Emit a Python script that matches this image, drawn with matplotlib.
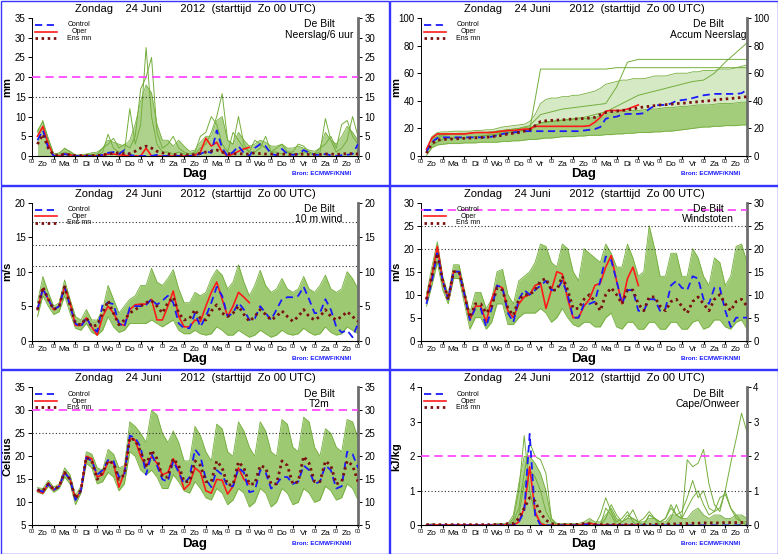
"""ECMWF ensemble plumes for De Bilt, start Sunday 24 June 2012 00 UTC."""

import numpy as np
import matplotlib
matplotlib.use('Agg')
from matplotlib import pyplot
from matplotlib.patches import Rectangle

pyplot.rcParams['font.family'] = ['Liberation Sans', 'DejaVu Sans']

# Forecast steps (hours after start), 6-hourly and 12-hourly.
hours = np.arange(6, 361, 6)
hours12 = np.arange(12, 361, 12)
oper_hours = hours[hours <= 240]
day_names = ['Zo', 'Ma', 'Di', 'Wo', 'Do', 'Vr', 'Za',
             'Zo', 'Ma', 'Di', 'Wo', 'Do', 'Vr', 'Za', 'Zo']
title = 'Zondag    24 Juni      2012  (starttijd  Zo 00 UTC)'

# --- Neerslag per 6 uur (mm) ---
prec_ctrl = [4.0, 6.5, 2.0, 0.0, 0.0, 0.5, 0.2, 0.0, 0.0, 0.0, 0.0, 0.0,
             0.3, 0.8, 1.0, 0.5, 1.5, 0.3, 0.0, 0.0, 0.0, 0.0, 0.3, 0.0,
             0.0, 0.2, 0.0, 0.0, 0.0, 0.2, 0.5, 1.2, 0.8, 6.5, 2.0, 0.0,
             1.0, 2.5, 0.8, 0.0, 2.0, 3.0, 2.5, 0.5, 0.2, 1.8, 0.5, 0.3,
             0.5, 1.5, 0.8, 0.3, 0.3, 0.5, 0.2, 0.0, 0.2, 0.3, 0.5, 3.0]
prec_oper = [5.0, 7.5, 3.0, 0.0, 0.0, 0.5, 0.3, 0.0, 0.0, 0.0, 0.0, 0.0,
             0.2, 0.5, 0.5, 0.3, 0.2, 0.0, 0.0, 0.0, 2.0, 0.0, 0.0, 0.0,
             0.0, 0.0, 0.0, 0.0, 0.0, 0.2, 1.0, 4.5, 2.5, 3.5, 1.0, 0.0,
             0.5, 1.2, 1.8, 2.2]
prec_mean = [3.0, 5.5, 2.0, 0.2, 0.2, 0.5, 0.3, 0.1, 0.1, 0.1, 0.1, 0.1,
             0.3, 0.5, 0.7, 0.8, 0.6, 0.6, 1.2, 2.0, 2.5, 2.0, 1.2, 0.8,
             0.5, 0.4, 0.3, 0.3, 0.3, 0.4, 0.7, 1.0, 1.2, 1.5, 1.0, 0.6,
             0.5, 0.6, 0.5, 0.5, 0.8, 0.6, 0.5, 0.5, 0.4, 0.5, 0.4, 0.4,
             0.4, 0.5, 0.4, 0.4, 0.4, 0.5, 0.5, 0.4, 0.5, 0.6, 0.6, 0.5]
prec_hi = [6.5, 8.5, 4.5, 0.5, 0.8, 1.8, 1.2, 0.3, 0.3, 0.5, 0.8, 1.0,
           2.0, 4.0, 3.5, 3.0, 2.5, 4.0, 8.0, 14.0, 18.0, 16.0, 8.0, 4.0,
           4.0, 2.5, 4.0, 2.5, 1.2, 1.5, 3.5, 5.0, 5.0, 9.0, 10.0, 4.0,
           3.0, 6.0, 4.0, 2.5, 3.0, 4.0, 3.5, 2.5, 2.5, 3.0, 2.0, 2.0,
           2.5, 2.0, 1.5, 1.2, 2.0, 6.0, 4.0, 3.0, 5.0, 7.5, 6.0, 4.0]
prec_m1 = [5.0, 7.0, 3.0, 0.0, 0.0, 1.0, 0.5, 0.0, 0.0, 0.0, 0.5, 0.0,
           1.0, 5.5, 2.0, 1.0, 1.0, 12.0, 3.0, 8.0, 27.5, 10.0, 3.0, 1.0,
           1.0, 0.5, 1.0, 0.5, 0.0, 0.5, 2.0, 3.0, 6.0, 10.0, 15.8, 4.0,
           3.0, 10.0, 3.0, 1.0, 1.0, 2.0, 5.0, 1.0, 1.0, 0.5, 1.0, 0.5,
           0.5, 1.0, 0.5, 0.5, 1.0, 9.5, 4.0, 1.0, 2.0, 4.0, 10.0, 5.0]
prec_m2 = [6.0, 9.0, 4.0, 0.5, 0.5, 2.0, 1.0, 0.0, 0.0, 0.3, 0.3, 0.5,
           2.0, 3.0, 4.5, 2.0, 3.0, 2.0, 5.0, 17.0, 20.0, 25.0, 6.0, 2.0,
           3.0, 5.0, 2.0, 1.0, 0.5, 1.0, 5.0, 6.0, 10.0, 8.0, 3.0, 1.0,
           6.0, 4.0, 2.0, 1.0, 4.0, 3.0, 2.0, 1.0, 2.0, 3.0, 1.0, 1.0,
           3.0, 2.5, 1.0, 0.5, 2.0, 3.0, 5.0, 2.0, 8.0, 9.0, 5.0, 3.0]

# --- Geaccumuleerde neerslag (mm) ---
acc_ctrl = [3, 10, 13, 13.5, 13.5, 13.5, 13.5, 13.5, 13.5, 13.5, 13.5, 13.5,
            14, 15, 16, 16.5, 17, 17.5, 18, 18, 18, 18, 18, 18,
            18, 18, 18, 18, 18, 18.5, 19, 19.5, 21, 27, 28, 28.5,
            30, 30.5, 30.5, 30.5, 31, 34, 36.5, 37, 37, 38, 40, 40.5,
            41, 42, 43, 44, 44.5, 45, 45, 45, 45, 45, 45.5, 48]
acc_oper = [5, 13, 16, 16, 16, 16, 16, 16, 16.5, 17, 17, 17,
            17, 17.5, 18, 18.5, 18.5, 19, 19.5, 19.5, 21.5, 21.5, 21.5, 21.5,
            21.5, 21.5, 21.5, 21.5, 21.5, 21.5, 22, 24.5, 28, 32.5, 33, 33,
            33, 34, 35.5, 37]
acc_mean = [2, 9, 11.5, 12, 12.2, 12.4, 12.6, 12.8, 13, 13.2, 13.4, 13.6,
            14, 14.5, 15, 16, 16.5, 17, 18, 19, 22, 25, 25.5, 25.8,
            26, 26.2, 26.5, 26.8, 27, 27.2, 27.5, 28, 30, 31.5, 32.2, 32.5,
            33, 33.5, 34, 35, 35.5, 36, 36.5, 37, 37.2, 37.5, 38, 38.2,
            38.5, 39, 39.3, 39.7, 40, 40.5, 41, 41.3, 41.7, 42, 42.5, 43]
acc_lo = [0.5, 6, 8, 8.5, 9, 9, 9, 9.5, 9.5, 9.5, 10, 10,
          10, 10, 10.5, 10.5, 11, 11, 11.5, 12, 12, 12.5, 13, 13,
          13.5, 14, 14, 14, 14.5, 14.5, 15, 15, 15, 15.5, 15.5, 16,
          16, 16.5, 16.5, 17, 17, 17, 17.5, 17.5, 18, 18, 18.5, 19,
          19.5, 20, 20.5, 21, 21, 21.5, 21.5, 22, 22, 22, 22.5, 22.5]
# upper edge of the dense core of the plume
acc_core = [4, 13, 15.5, 16, 16, 16, 16.5, 16.5, 16.5, 17, 17, 17,
            17.5, 18, 18.5, 19, 19.5, 20, 20.5, 21, 22, 24, 25, 25,
            25.5, 26, 26, 26.5, 27, 27, 27.5, 28, 29, 31, 31.5, 32,
            32, 32.5, 33, 33, 33.5, 34, 34, 34.5, 35, 35, 35.5, 36,
            36, 36.5, 37, 37, 37, 37.5, 38, 38, 38, 38.5, 39, 39]
acc_hi = [4.5, 14, 17, 17.5, 17.5, 18, 18, 18, 18, 18.5, 18.5, 19,
          19, 20, 21, 21.5, 22, 22.5, 23, 25, 30, 38, 41, 42,
          42, 43, 43, 44, 44, 45, 46, 47, 49, 52, 53, 54,
          55, 55, 56, 56, 56, 57, 58, 58, 58, 59, 60, 60,
          60, 61, 61, 62, 62, 62, 63, 63, 63, 64, 65, 66]
# single members standing out of the plume (12-hourly)
acc_m1 = [12, 16, 16, 16, 17, 17, 17, 18, 18, 19, 63, 63, 63, 63, 63,
          63, 63, 64, 64, 64, 64, 64, 64, 64, 64, 64, 64, 64, 64, 64]
acc_m2 = [10, 15, 16, 16, 17, 17, 18, 19, 20, 22, 30, 32, 34, 35, 36,
          37, 38, 50, 68, 70, 70, 70, 70, 70, 70, 70, 70, 70, 70, 70]
acc_m3 = [8, 12, 13, 13, 14, 15, 16, 17, 18, 20, 24, 25, 26, 27, 28,
          30, 32, 36, 40, 44, 46, 48, 50, 52, 54, 55, 60, 68, 75, 82]

# --- 10 m wind (m/s) ---
wind_ctrl = [4.5, 7.5, 6.0, 4.5, 5.0, 7.8, 5.0, 2.5, 2.0, 3.3, 2.0, 1.3,
             5.3, 5.5, 5.3, 2.5, 2.0, 4.8, 5.0, 5.0, 5.2, 6.0, 5.2, 5.8,
             6.5, 5.5, 2.5, 1.8, 1.8, 4.0, 2.0, 3.5, 5.5, 7.8, 6.5, 3.5,
             4.0, 5.5, 4.5, 3.0, 3.2, 5.0, 4.0, 3.0, 4.5, 6.0, 6.3, 6.3,
             6.5, 7.8, 6.0, 4.0, 4.0, 6.0, 4.5, 2.0, 1.2, 1.5, 0.5, 2.5]
wind_oper = [4.5, 7.5, 6.0, 4.5, 5.0, 7.8, 5.5, 2.2, 2.2, 3.3, 2.0, 0.8,
             3.5, 5.0, 4.0, 2.5, 2.2, 4.5, 5.2, 5.3, 5.3, 6.0, 3.0, 3.0,
             5.0, 7.2, 3.5, 2.0, 2.0, 3.0, 2.8, 5.0, 7.0, 8.5, 6.0, 3.5,
             5.0, 7.0, 6.3, 5.5]
wind_mean = [4.5, 7.8, 6.0, 4.5, 5.0, 7.8, 5.2, 2.5, 2.3, 3.3, 2.0, 2.3,
             4.0, 5.8, 4.0, 2.3, 3.0, 4.0, 4.5, 5.0, 5.5, 5.8, 5.0, 4.0,
             5.5, 6.3, 4.0, 3.0, 3.2, 4.5, 3.2, 3.0, 4.3, 5.2, 4.0, 3.5,
             4.0, 5.0, 3.8, 2.8, 3.5, 4.5, 3.8, 3.0, 3.5, 4.3, 3.5, 2.8,
             3.5, 4.5, 3.5, 3.0, 3.5, 4.5, 3.5, 3.0, 3.5, 4.2, 3.5, 2.8]
wind_lo = [3.5, 6.5, 5.0, 3.8, 4.2, 6.5, 4.0, 1.8, 1.5, 2.5, 1.2, 0.8,
           1.5, 3.5, 2.0, 1.2, 1.5, 2.5, 2.5, 2.5, 2.5, 3.0, 2.5, 2.0,
           2.5, 3.0, 1.5, 1.0, 1.0, 1.5, 1.0, 0.8, 1.0, 2.0, 1.5, 0.8,
           0.8, 1.5, 1.0, 0.5, 0.8, 1.5, 1.0, 0.5, 0.8, 1.5, 1.0, 0.8,
           1.0, 1.8, 1.2, 0.8, 1.0, 2.0, 1.2, 0.8, 1.0, 2.0, 1.5, 1.0]
wind_hi = [5.5, 9.3, 7.0, 5.0, 5.5, 8.8, 6.0, 3.5, 3.0, 4.5, 3.0, 3.0,
           4.5, 8.0, 6.0, 4.0, 5.0, 6.0, 6.5, 8.0, 8.0, 10.5, 8.5, 8.0,
           9.0, 10.3, 7.5, 5.5, 5.5, 7.0, 6.5, 7.0, 9.0, 10.3, 9.5, 7.5,
           8.5, 11.0, 8.5, 6.5, 8.0, 10.2, 8.0, 7.0, 7.5, 9.0, 7.5, 7.0,
           7.5, 9.3, 7.5, 7.0, 8.0, 9.5, 7.5, 7.0, 7.5, 10.0, 9.0, 7.5]

# --- Windstoten (m/s) ---
gust_ctrl = [8, 13, 19, 13, 9, 15, 15, 10, 4.5, 7, 7, 3,
             7, 12, 11.5, 6, 4, 9, 11, 10, 11, 12, 13, 11,
             11, 13, 10, 5, 5, 8, 8, 8.5, 13, 18.3, 17.5, 13,
             8, 11, 11, 6.5, 6.5, 9, 9, 6.5, 7, 12, 13, 11.5,
             11, 14, 13.5, 9, 8, 11.5, 11.5, 6.5, 3, 5, 5, 5]
gust_oper = [9, 14, 20.5, 13, 9, 15, 15, 10, 4.5, 7.5, 7.5, 4,
             9, 12, 11.5, 6.5, 5, 8, 9.5, 10, 12, 12.5, 7, 11,
             15, 14.5, 9, 5, 5, 7.5, 9, 12, 12.5, 16, 18.5, 13,
             8, 13.5, 16, 12]
gust_mean = [9, 14, 19, 13, 9, 15, 15, 10, 5, 8, 8, 6,
             7.5, 11.5, 11, 7, 5.5, 9, 10, 10, 11, 13, 13.5, 11,
             11, 14, 11, 7, 7, 9, 10, 8.5, 6.5, 10, 11.5, 10,
             8, 11, 11, 8, 6.5, 9.5, 9.5, 7.5, 6.5, 8.5, 9, 7.5,
             6, 8.5, 9.5, 8, 6.5, 9, 10, 8, 6.5, 8.5, 9, 7.5]
gust_lo = [7.5, 12, 17, 11, 8, 13.5, 13.5, 8, 2.5, 5, 5, 2.5,
           4, 8, 8, 3.5, 3.5, 5, 6, 6, 6, 7, 6, 4,
           5, 7, 5, 3.5, 3, 4, 4, 3, 3, 5, 6, 3,
           2.5, 4, 4, 2.5, 2.5, 4, 4, 2.5, 2.5, 4, 4, 2.5,
           2.5, 4, 4.5, 2.5, 3, 4.5, 4.5, 3, 2.5, 4, 4.5, 2.5]
gust_hi = [10, 16, 21.5, 14, 10, 16.5, 16.5, 11, 6, 10.5, 10.5, 7,
           9, 15, 15.5, 10, 8, 13, 14, 15, 17, 21, 20.5, 17,
           16, 21, 20, 15, 13, 20, 19, 18, 17, 21, 19, 16,
           16, 21, 18, 14, 15, 25, 20, 14, 14, 19, 19, 14,
           14, 20, 18, 14, 12, 18, 17, 12, 14, 20.5, 21, 17]

# --- Temperatuur 2 m (Celsius) ---
t2m_ctrl = [12.8, 12.3, 14.0, 12.7, 13.5, 16.5, 15.0, 10.5, 12.5, 19.7, 19.0, 16.0,
            17.0, 19.2, 19.0, 15.5, 16.0, 24.5, 24.0, 22.0, 16.0, 20.5, 18.0, 15.0,
            14.5, 19.0, 16.5, 14.0, 15.5, 21.5, 20.0, 15.0, 13.3, 17.0, 16.0, 13.5,
            13.5, 17.5, 16.5, 12.2, 12.5, 17.0, 16.5, 13.0, 14.0, 15.5, 15.5, 14.0,
            14.5, 18.0, 17.0, 14.0, 14.5, 18.0, 17.0, 13.0, 13.5, 21.0, 20.5, 17.5]
t2m_oper = [12.5, 12.0, 14.2, 12.7, 13.5, 16.5, 15.0, 10.7, 12.5, 20.0, 19.5, 15.5,
            16.0, 18.8, 18.5, 13.3, 16.5, 24.0, 23.5, 20.0, 17.8, 20.0, 18.5, 16.0,
            16.5, 19.5, 17.0, 12.8, 14.0, 17.5, 16.5, 12.5, 12.0, 15.0, 14.8, 11.8,
            13.5, 17.5, 15.0, 14.0]
t2m_mean = [12.7, 12.5, 14.0, 12.8, 13.5, 16.5, 15.0, 10.8, 12.7, 19.8, 19.0, 15.0,
            16.5, 19.0, 18.5, 15.0, 16.0, 24.0, 23.5, 21.0, 18.0, 21.3, 19.5, 15.5,
            15.5, 19.5, 18.0, 14.5, 14.5, 19.0, 18.0, 14.5, 14.5, 19.0, 17.5, 13.8,
            13.8, 18.8, 17.5, 14.0, 14.0, 18.0, 17.5, 14.0, 14.0, 19.0, 18.0, 14.0,
            14.5, 20.0, 18.5, 14.5, 14.5, 19.0, 18.0, 14.0, 14.5, 19.0, 18.0, 14.5]
t2m_lo = [12.2, 11.8, 13.5, 12.2, 13.0, 15.5, 14.0, 9.5, 12.0, 18.5, 17.5, 14.0,
          14.5, 16.5, 15.5, 12.5, 14.0, 21.0, 20.0, 17.0, 16.0, 17.0, 15.5, 13.0,
          13.0, 16.0, 14.5, 12.5, 12.0, 14.5, 13.0, 11.0, 10.5, 13.0, 12.0, 9.5,
          10.5, 13.0, 12.0, 9.0, 10.0, 13.0, 12.0, 9.0, 10.0, 13.0, 12.0, 9.5,
          10.0, 13.0, 12.0, 10.0, 10.5, 13.5, 12.5, 10.5, 11.0, 14.0, 13.0, 10.5]
t2m_hi = [13.2, 13.0, 14.8, 13.3, 14.0, 17.5, 16.0, 11.5, 13.5, 21.0, 20.5, 17.5,
          17.0, 21.5, 20.5, 17.5, 18.0, 27.5, 26.5, 25.0, 23.0, 30.0, 29.0, 25.0,
          23.0, 25.5, 23.0, 19.0, 19.0, 26.5, 24.5, 21.0, 19.0, 27.0, 26.0, 21.0,
          20.0, 27.5, 25.5, 22.0, 20.0, 27.5, 25.5, 21.0, 20.0, 28.0, 27.0, 22.0,
          21.0, 28.5, 27.5, 22.0, 20.0, 26.0, 25.0, 22.0, 21.0, 28.0, 27.5, 24.0]

# --- CAPE (kJ/kg) ---
cape_ctrl = [0.0, 0.0, 0.0, 0.0, 0.0, 0.0, 0.0, 0.0, 0.0, 0.0, 0.0, 0.0,
             0.0, 0.0, 0.0, 0.0, 0.0, 0.1, 0.4, 2.65, 0.3, 0.0, 0.0, 0.0,
             0.0, 0.0, 0.0, 0.0, 0.0, 0.02, 0.03, 0.0, 0.0, 0.0, 0.0, 0.0,
             0.0, 0.0, 0.0, 0.0, 0.0, 0.0, 0.0, 0.0, 0.0, 0.0, 0.0, 0.0,
             0.0, 0.0, 0.0, 0.0, 0.0, 0.0, 0.0, 0.0, 0.0, 0.0, 0.0, 0.0]
cape_oper = [0.01, 0.01, 0.01, 0.01, 0.01, 0.01, 0.01, 0.01, 0.01, 0.01, 0.01, 0.01,
             0.01, 0.01, 0.01, 0.01, 0.0, 0.1, 0.5, 1.7, 0.4, 0.05, 0.0, 0.0,
             0.0, 0.01, 0.01, 0.01, 0.01, 0.03, 0.06, 0.03, 0.01, 0.01, 0.01, 0.01,
             0.01, 0.01, 0.01, 0.01]
cape_mean = [0.02, 0.02, 0.02, 0.02, 0.02, 0.02, 0.02, 0.02, 0.02, 0.02, 0.02, 0.02,
             0.02, 0.02, 0.03, 0.05, 0.05, 0.2, 0.5, 0.8, 0.7, 0.35, 0.15, 0.05,
             0.02, 0.02, 0.02, 0.02, 0.03, 0.05, 0.04, 0.02, 0.02, 0.02, 0.02, 0.02,
             0.02, 0.02, 0.02, 0.02, 0.02, 0.02, 0.03, 0.03, 0.03, 0.04, 0.04, 0.05,
             0.05, 0.06, 0.06, 0.07, 0.07, 0.07, 0.07, 0.08, 0.08, 0.08, 0.08, 0.08]
cape_hi = [0.03, 0.04, 0.03, 0.02, 0.02, 0.03, 0.02, 0.02, 0.02, 0.02, 0.02, 0.02,
           0.03, 0.06, 0.05, 0.05, 0.3, 1.2, 2.0, 2.0, 1.8, 1.5, 1.0, 0.2,
           0.05, 0.05, 0.05, 0.05, 0.05, 0.1, 0.2, 0.1, 0.1, 0.3, 0.5, 0.2,
           0.1, 0.2, 0.2, 0.1, 0.1, 0.2, 0.2, 0.1, 0.1, 0.3, 0.3, 0.2,
           0.2, 0.4, 0.5, 0.3, 0.2, 0.3, 0.3, 0.2, 0.2, 0.3, 0.3, 0.2]
cape_m1 = [0.0, 0.0, 0.0, 0.0, 0.0, 0.0, 0.0, 0.0, 0.0, 0.0, 0.0, 0.0,
           0.0, 0.0, 0.0, 0.0, 0.2, 1.0, 2.6, 1.0, 0.3, 0.1, 0.0, 0.0,
           0.0, 0.0, 0.0, 0.0, 0.0, 0.0, 0.1, 0.0, 0.3, 0.8, 0.4, 0.1,
           0.2, 0.4, 0.1, 0.0, 0.0, 0.3, 0.2, 0.0, 0.0, 0.2, 0.6, 0.2,
           1.9, 1.7, 1.8, 2.2, 1.2, 0.6, 0.4, 1.0, 0.5, 0.2, 0.1, 0.0]
cape_m2 = [0.0, 0.0, 0.0, 0.0, 0.0, 0.0, 0.0, 0.0, 0.0, 0.0, 0.0, 0.0,
           0.0, 0.0, 0.0, 0.0, 0.1, 0.5, 1.5, 2.4, 2.0, 1.9, 1.5, 0.2,
           0.0, 0.0, 0.0, 0.0, 0.0, 0.0, 0.0, 0.0, 0.0, 0.2, 0.6, 0.3,
           0.1, 0.2, 0.45, 0.1, 0.0, 0.3, 0.2, 0.1, 0.2, 0.5, 0.3, 0.2,
           0.5, 0.8, 1.0, 0.6, 0.3, 0.4, 0.5, 1.0, 1.8, 2.5, 3.25, 2.7]
cape_m3 = [0.0, 0.0, 0.0, 0.0, 0.0, 0.0, 0.0, 0.0, 0.0, 0.0, 0.0, 0.0,
           0.0, 0.0, 0.0, 0.0, 0.0, 0.3, 1.2, 1.6, 1.4, 1.0, 0.4, 0.1,
           0.0, 0.0, 0.0, 0.0, 0.0, 0.0, 0.0, 0.0, 0.0, 0.5, 0.3, 0.0,
           0.1, 0.3, 0.2, 0.1, 0.2, 0.4, 0.2, 0.1, 0.2, 0.6, 0.3, 0.4,
           0.8, 1.3, 0.8, 1.0, 0.5, 0.4, 0.8, 0.9, 0.5, 0.3, 0.1, 0.1]

# Styles.
green = '#74ae3c'
fill_green = '#8cc05a'
ctrl_kw = dict(color='#1a1aff', lw=1.3, ls=(0, (4, 2.5)), zorder=5)
oper_kw = dict(color='#ff1a1a', lw=1.2, ls='-', zorder=4)
mean_kw = dict(color='#7a1010', lw=2.0, ls=(0, (0.9, 1.3)), zorder=6)
magenta_kw = dict(color='#ff3cff', lw=1.2, ls=(0, (5, 3)), zorder=3)
dotted_kw = dict(color='#303030', lw=0.8, ls=(0, (1, 2)), zorder=3)

panel_w, panel_h = 389.0, 554.0 / 3
fig_w, fig_h = 778.0, 554.0


def make_axes(fig, row, col):
    left = (col * panel_w + 32) / fig_w
    bottom = 1 - (row * panel_h + 156) / fig_h
    ax = fig.add_axes([left, bottom, 326 / fig_w, 138 / fig_h])
    # Blue frame around each panel.
    fig.add_artist(Rectangle(((col * panel_w + 1) / fig_w, 1 - (row + 1) * panel_h / fig_h),
                             (panel_w - 1) / fig_w, (panel_h - 1) / fig_h,
                             transform=fig.transFigure, fill=False,
                             edgecolor='#3535ff', lw=1.0))
    return ax


def plume(ax, lo, hi, members=(), alpha=0.8):
    base = 0 if lo is None else lo
    ax.fill_between(hours, base, hi, color=fill_green, alpha=alpha, lw=0, zorder=1)
    if lo is not None:
        ax.plot(hours, lo, color=green, lw=0.6, zorder=2)
    ax.plot(hours, hi, color=green, lw=0.6, zorder=2)
    for m in members:
        ax.plot(hours, m, color=green, lw=0.7, zorder=2)


def decorate(ax, yticks, ylabel, name):
    ax.set_xlim(0, 360)
    ax.set_ylim(yticks[0], yticks[-1])
    ax.set_yticks(yticks)
    ax.set_yticklabels([f'{v:g}' for v in yticks])
    ax.tick_params(axis='y', labelsize=7, length=3, width=0.7, pad=1.5,
                   left=True, right=True, labelleft=True, labelright=True)
    ax.set_xticks(np.arange(0, 361, 24))
    ax.set_xticklabels(['00'] * 16)
    ax.set_xticks(np.arange(12, 360, 24), minor=True)
    ax.set_xticklabels(day_names, minor=True)
    ax.tick_params(axis='x', which='major', labelsize=4, length=2, pad=0.5)
    ax.tick_params(axis='x', which='minor', labelsize=6, length=0, pad=3.5)
    ax.spines['top'].set_visible(False)
    ax.spines['right'].set_color('#6e6e6e')
    ax.spines['right'].set_linewidth(2.0)
    ax.spines['left'].set_linewidth(0.7)
    ax.spines['bottom'].set_linewidth(0.8)
    ax.set_ylabel(ylabel, fontsize=8, fontweight='bold')
    ax.yaxis.set_label_coords(-0.06, 0.5)
    ax.set_xlabel('Dag', fontsize=9.5, fontweight='bold')
    ax.xaxis.set_label_coords(0.5, -0.09)
    ax.text(0.5, 1.065, title, transform=ax.transAxes, ha='center', va='center',
            fontsize=8)
    ax.text(0.88, 0.955, 'De Bilt', transform=ax.transAxes, ha='center',
            va='center', fontsize=7.5)
    ax.text(0.88, 0.88, name, transform=ax.transAxes, ha='center',
            va='center', fontsize=7.5)
    ax.text(0.98, -0.13, 'Bron: ECMWF/KNMI', transform=ax.transAxes, ha='right',
            va='center', fontsize=4.5, fontweight='bold', color='#1a1aff')
    # Legend.
    for ypos, kw, label in [(0.95, ctrl_kw, 'Control'), (0.90, oper_kw, 'Oper'),
                            (0.855, mean_kw, 'Ens mn')]:
        ax.plot([0.01, 0.077], [ypos, ypos], transform=ax.transAxes,
                **dict(kw, zorder=7))
        ax.text(0.145, ypos, label, transform=ax.transAxes, ha='center',
                va='center', fontsize=5)


def series(ax, ctrl, oper, mean):
    ax.plot(oper_hours, oper, **oper_kw)
    ax.plot(hours, ctrl, **ctrl_kw)
    ax.plot(hours, mean, **mean_kw)


fig = pyplot.figure(figsize=(7.78, 5.54), dpi=100)

# Neerslag/6 uur
ax = make_axes(fig, 0, 0)
plume(ax, None, prec_hi, [prec_m1, prec_m2], alpha=0.7)
ax.axhline(20, **magenta_kw)
ax.axhline(15, **dotted_kw)
series(ax, prec_ctrl, prec_oper, prec_mean)
decorate(ax, np.arange(0, 36, 5), 'mm', 'Neerslag/6 uur')

# Accum Neerslag: dense core plus a lighter outer plume
ax = make_axes(fig, 0, 1)
ax.fill_between(hours, acc_core, acc_hi, color=fill_green, alpha=0.35, lw=0, zorder=1)
plume(ax, acc_lo, acc_core, alpha=0.8)
ax.plot(hours, acc_hi, color=green, lw=0.6, zorder=2)
for m in [acc_m1, acc_m2, acc_m3]:
    ax.plot(hours12, m, color=green, lw=0.7, zorder=2)
series(ax, acc_ctrl, acc_oper, acc_mean)
decorate(ax, np.arange(0, 101, 20), 'mm', 'Accum Neerslag')

# 10 m wind
ax = make_axes(fig, 1, 0)
plume(ax, wind_lo, wind_hi, alpha=0.85)
for level in [10.8, 13.9, 17.2]:
    ax.axhline(level, **dotted_kw)
series(ax, wind_ctrl, wind_oper, wind_mean)
decorate(ax, np.arange(0, 21, 5), 'm/s', '10 m wind')

# Windstoten
ax = make_axes(fig, 1, 1)
plume(ax, gust_lo, gust_hi, alpha=0.85)
ax.axhline(28.5, **magenta_kw)
ax.axhline(25, **dotted_kw)
ax.axhline(20, **dotted_kw)
series(ax, gust_ctrl, gust_oper, gust_mean)
decorate(ax, np.arange(0, 31, 5), 'm/s', 'Windstoten')

# T2m
ax = make_axes(fig, 2, 0)
plume(ax, t2m_lo, t2m_hi, alpha=0.85)
ax.axhline(30, **magenta_kw)
ax.axhline(25, **dotted_kw)
series(ax, t2m_ctrl, t2m_oper, t2m_mean)
decorate(ax, np.arange(5, 36, 5), 'Celsius', 'T2m')

# Cape/Onweer
ax = make_axes(fig, 2, 1)
plume(ax, None, cape_hi, [cape_m1, cape_m2, cape_m3], alpha=0.7)
ax.axhline(2, **magenta_kw)
ax.axhline(1, **dotted_kw)
series(ax, cape_ctrl, cape_oper, cape_mean)
decorate(ax, np.arange(0, 5, 1), 'kJ/kg', 'Cape/Onweer')

fig.savefig('out.png', dpi=100)
